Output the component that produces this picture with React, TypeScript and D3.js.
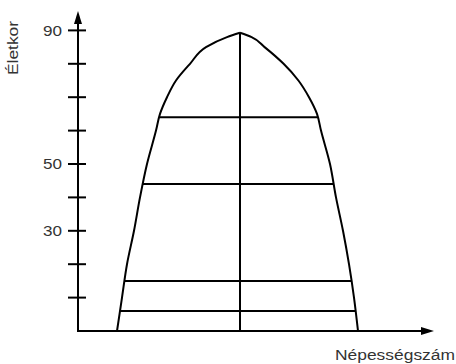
import React from "react";
import * as d3 from "d3";

// ages (years) and the outline of the shape on both sides of the centre
const ages = [0, 10, 20, 30, 40, 50, 60, 65, 70, 75, 80, 85, 88, 89.3];
const leftSide = [-61.5, -59, -56.5, -53, -50, -46.5, -42, -40, -36.5, -32, -25, -17, -6.5, 0];
const rightSide = [59, 57, 54.5, 51.5, 48, 45, 40.5, 38.5, 34.5, 29.2, 21.8, 12.3, 5.8, 0];

// horizontal dividers
const bandAges = [6, 15, 44, 64];

const yTicks = [10, 20, 30, 40, 50, 60, 70, 80, 90];
const yLabels = [30, 50, 90];

export default function App() {
  const width = 456;
  const height = 364;
  const axisX = 78;
  const axisY = 331;

  const x = d3.scaleLinear().domain([-81, 96.5]).range([axisX, 433]);
  const y = d3.scaleLinear().domain([0, 90]).range([axisY, 30.4]);

  const leftAt = d3.scaleLinear().domain(ages).range(leftSide);
  const rightAt = d3.scaleLinear().domain(ages).range(rightSide);

  const line = d3
    .line<[number, number]>()
    .x(d => x(d[0]))
    .y(d => y(d[1]))
    .curve(d3.curveMonotoneY);

  const leftPts = ages.map((a, i) => [leftSide[i], a] as [number, number]);
  const rightPts = ages.map((a, i) => [rightSide[i], a] as [number, number]);

  const top = ages[ages.length - 1];
  const font = "'Liberation Sans', Arial, sans-serif";

  return (
    <svg
      width={width}
      height={height}
      style={{ position: "absolute", left: 0, top: 0, background: "#fff" }}
    >
      {/* outline */}
      <g fill="none" stroke="#000" strokeWidth={2}>
        <path d={line(leftPts) ?? ""} />
        <path d={line(rightPts) ?? ""} />
        {/* centre line */}
        <line x1={x(0)} x2={x(0)} y1={y(0)} y2={y(top)} />
        {/* dividers */}
        {bandAges.map(a => (
          <line key={a} x1={x(leftAt(a))} x2={x(rightAt(a))} y1={y(a)} y2={y(a)} />
        ))}
      </g>

      {/* y axis */}
      <g stroke="#000" strokeWidth={2}>
        <line x1={axisX} x2={axisX} y1={axisY} y2={16} />
        {yTicks.map(t => (
          <line key={t} x1={axisX - 10} x2={axisX + 8} y1={y(t)} y2={y(t)} />
        ))}
      </g>
      <path d={`M${axisX},11 L${axisX - 4},24 L${axisX + 4},24 Z`} fill="#000" />

      {/* x axis */}
      <line x1={axisX - 1} x2={428} y1={axisY} y2={axisY} stroke="#000" strokeWidth={2} />
      <path d={`M434,${axisY} L421,${axisY - 4} L421,${axisY + 4} Z`} fill="#000" />

      {/* labels */}
      <g fontFamily={font} fontSize={15.5} fill="#333">
        {yLabels.map(t => (
          <text key={t} x={62} y={y(t)} dy="0.35em" textAnchor="end" textLength={19} lengthAdjust="spacingAndGlyphs">
            {t}
          </text>
        ))}
        <text
          transform="translate(18,48) rotate(-90)"
          textAnchor="middle"
          textLength={54}
          lengthAdjust="spacingAndGlyphs"
        >
          Életkor
        </text>
        <text x={335} y={360} textLength={120} lengthAdjust="spacingAndGlyphs">
          Népességszám
        </text>
      </g>
    </svg>
  );
}
